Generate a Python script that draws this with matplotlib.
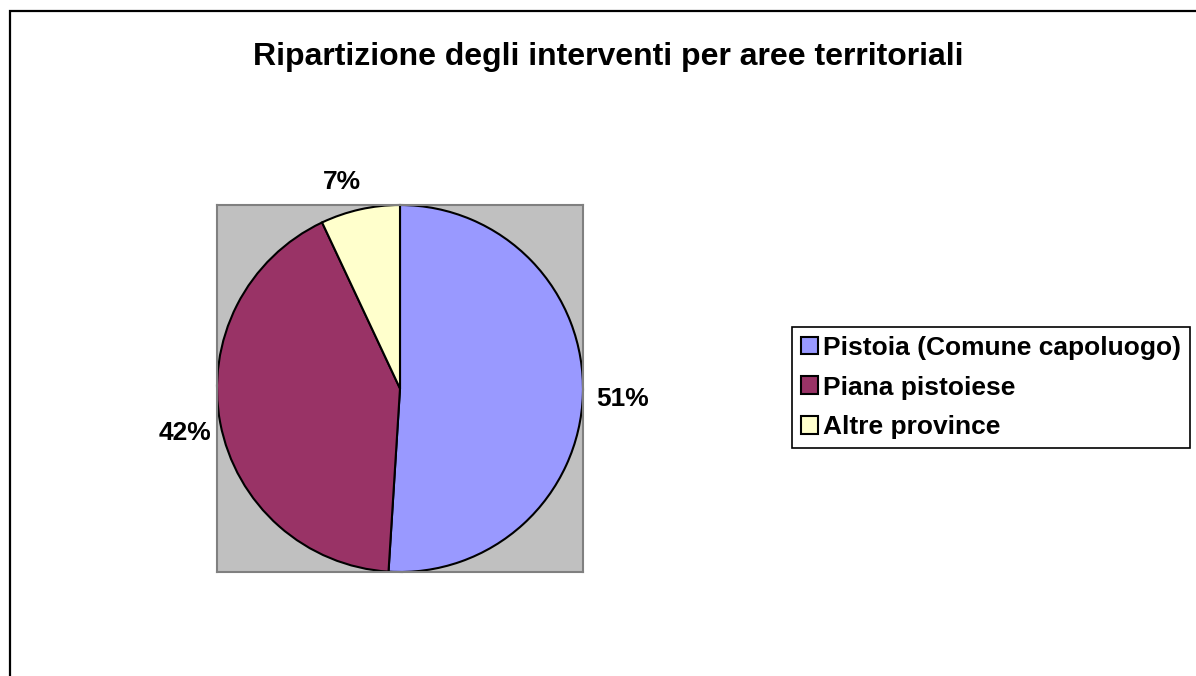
import matplotlib
matplotlib.use("Agg")
import matplotlib.pyplot as plt
from matplotlib.patches import Patch, Rectangle

categories = ["Pistoia (Comune capoluogo)", "Piana pistoiese", "Altre province"]
values = [51, 42, 7]
colors = ["#9999FF", "#993366", "#FFFFCC"]
title = "Ripartizione degli interventi per aree territoriali"

# label positions (data coords relative to pie of radius 1)
label_pos = [(1.215, -0.055), (-1.175, -0.24), (-0.32, 1.125)]

plt.rcParams['font.family'] = ['Liberation Sans', 'DejaVu Sans']
plt.rcParams['font.weight'] = 'bold'

W, H = 1196, 676
fig = plt.figure(figsize=(W / 100, H / 100), dpi=100)
fig.patch.set_facecolor("white")

# outer chart border (left & top visible, right & bottom clipped)
fig.add_artist(Rectangle((9.5 / W, -0.1), 1.2, (1 - 11 / H) + 0.1,
                         transform=fig.transFigure, fill=False,
                         edgecolor="black", linewidth=1.6, clip_on=False))

fig.text(608 / W, 1 - 57 / H, title, ha="center", va="center",
         fontsize=23, fontweight="bold")

ax = fig.add_axes([217 / W, 1 - 572 / H, 366 / W, 367 / H])
ax.set_facecolor("#C0C0C0")
wedges, _ = ax.pie(values, colors=colors, startangle=90, counterclock=False,
                   radius=1.0, center=(0, 0), frame=True,
                   wedgeprops=dict(edgecolor="black", linewidth=1.5))
ax.set_xlim(-1.0, 1.0)
ax.set_ylim(-1.0, 1.0)
ax.set_aspect("auto")
ax.set_xticks([])
ax.set_yticks([])
for s in ax.spines.values():
    s.set_edgecolor("#808080")
    s.set_linewidth(1.5)

total = sum(values)
for v, (x, y) in zip(values, label_pos):
    ax.text(x, y, f"{round(100 * v / total)}%", ha="center", va="center",
            fontsize=19, fontweight="bold", clip_on=False)

handles = [Patch(facecolor=c, edgecolor="black", linewidth=1.5) for c in colors]
leg = fig.legend(handles, categories, loc="upper left",
                 bbox_to_anchor=(792 / W, 1 - 327 / H),
                 bbox_transform=fig.transFigure, borderaxespad=0,
                 prop=dict(family=['Liberation Sans', 'DejaVu Sans'], weight='bold', size=19),
                 handlelength=0.65, handleheight=0.65, handletextpad=0.2,
                 labelspacing=0.6, borderpad=0.33, fancybox=False, frameon=True,
                 framealpha=1.0)
leg.get_frame().set_edgecolor("black")
leg.get_frame().set_linewidth(1.2)

fig.savefig("out.png", dpi=100, facecolor="white")
